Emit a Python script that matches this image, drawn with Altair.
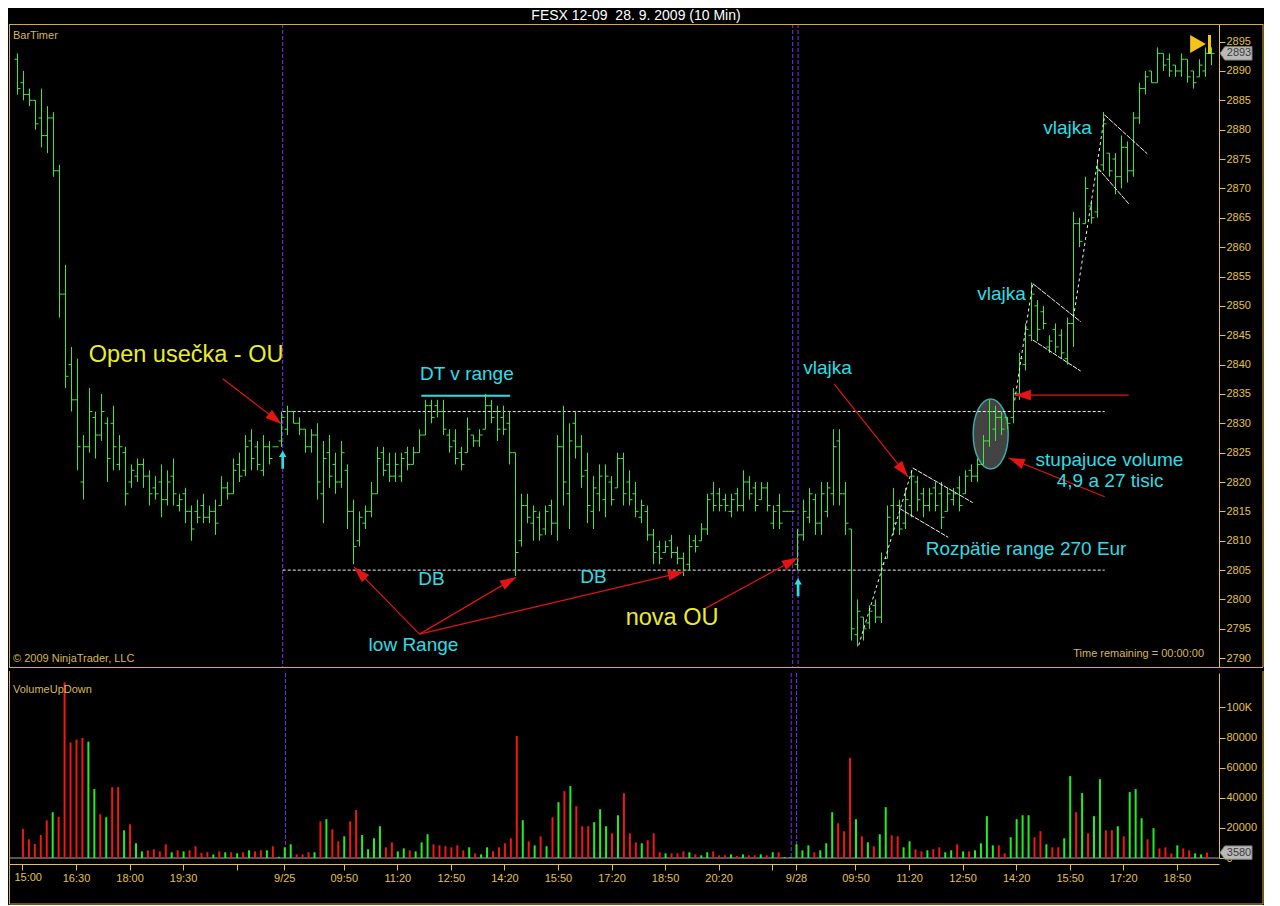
import altair as alt
import pandas as pd

# ---------------- data: 10-minute OHLC bars + volume ----------------
HIGH = [2893, 2890, 2887, 2885, 2887, 2884, 2883, 2874, 2857, 2843,
        2841, 2828, 2836, 2832, 2835, 2831, 2833, 2828, 2826, 2823,
        2824, 2824, 2822, 2821, 2823, 2822, 2824, 2818, 2819, 2816,
        2817, 2818, 2816, 2817, 2821, 2820, 2824, 2825, 2828, 2829,
        2827, 2828, 2827, 2826, 2832, 2833, 2832, 2831, 2829, 2829,
        2830, 2827, 2828, 2825, 2827, 2823, 2817, 2815, 2816, 2820,
        2826, 2826, 2825, 2825, 2825, 2826, 2826, 2829, 2834, 2834,
        2834, 2834, 2829, 2829, 2826, 2831, 2828, 2829, 2835, 2834,
        2833, 2833, 2832, 2825, 2818, 2818, 2816, 2815, 2816, 2817,
        2828, 2833, 2830, 2832, 2828, 2825, 2821, 2823, 2823, 2821,
        2825, 2825, 2822, 2820, 2817, 2816, 2812, 2810, 2810, 2811,
        2809, 2808, 2811, 2811, 2813, 2818, 2820, 2819, 2818, 2818,
        2819, 2822, 2821, 2820, 2820, 2820, 2816, 2818, 2815, 2815,
        2812, 2817, 2819, 2818, 2820, 2820, 2829, 2829, 2820, 2812,
        2800, 2797, 2799, 2800, 2808, 2816, 2819, 2817, 2819, 2822,
        2821, 2819, 2819, 2820, 2820, 2819, 2819, 2821, 2822, 2823,
        2824, 2828, 2834, 2833, 2832, 2831, 2836, 2842, 2847, 2854,
        2851, 2850, 2845, 2847, 2846, 2848, 2866, 2865, 2872, 2868,
        2875, 2883, 2876, 2876, 2879, 2878, 2883, 2888, 2890, 2890,
        2894, 2893, 2893, 2891, 2893, 2892, 2890, 2892, 2894, 2894]
LOW = [2886, 2885, 2884, 2880, 2877, 2876, 2872, 2848, 2836, 2832,
       2822, 2817, 2825, 2824, 2827, 2820, 2822, 2822, 2816, 2819,
       2820, 2819, 2816, 2817, 2814, 2816, 2816, 2815, 2813, 2810,
       2813, 2813, 2813, 2811, 2816, 2817, 2818, 2820, 2821, 2822,
       2822, 2821, 2823, 2826, 2826, 2828, 2830, 2828, 2825, 2825,
       2817, 2813, 2819, 2818, 2819, 2812, 2806, 2809, 2812, 2814,
       2818, 2821, 2820, 2820, 2820, 2822, 2823, 2825, 2828, 2830,
       2831, 2828, 2825, 2823, 2822, 2825, 2826, 2826, 2829, 2830,
       2827, 2828, 2823, 2804, 2809, 2813, 2810, 2810, 2811, 2811,
       2810, 2816, 2812, 2824, 2819, 2813, 2812, 2815, 2814, 2816,
       2819, 2816, 2816, 2814, 2813, 2810, 2806, 2806, 2808, 2807,
       2806, 2804, 2805, 2808, 2810, 2811, 2815, 2815, 2815, 2814,
       2815, 2815, 2817, 2815, 2817, 2815, 2812, 2812, 2815, 2815,
       2805, 2810, 2813, 2811, 2811, 2814, 2816, 2816, 2811, 2793,
       2792, 2793, 2795, 2796, 2796, 2807, 2811, 2811, 2812, 2814,
       2815, 2814, 2815, 2815, 2812, 2815, 2816, 2815, 2818, 2820,
       2820, 2823, 2826, 2827, 2828, 2829, 2830, 2834, 2839, 2844,
       2844, 2846, 2842, 2842, 2841, 2840, 2843, 2860, 2864, 2864,
       2865, 2873, 2872, 2869, 2870, 2871, 2872, 2881, 2886, 2888,
       2888, 2890, 2889, 2889, 2889, 2888, 2887, 2889, 2889, 2891]
OPEN = [2892, 2888, 2886, 2885, 2882, 2879, 2882, 2873, 2852, 2840,
        2834, 2820, 2826, 2831, 2828, 2830, 2830, 2823, 2825, 2820,
        2821, 2823, 2821, 2819, 2820, 2817, 2821, 2816, 2818, 2815,
        2815, 2816, 2814, 2815, 2816, 2819, 2818, 2823, 2822, 2827,
        2826, 2822, 2826, 2826, 2827, 2829, 2832, 2830, 2829, 2826,
        2828, 2818, 2825, 2823, 2820, 2822, 2815, 2810, 2813, 2815,
        2818, 2825, 2823, 2821, 2821, 2825, 2823, 2825, 2828, 2833,
        2833, 2832, 2828, 2827, 2825, 2825, 2828, 2827, 2829, 2833,
        2832, 2831, 2830, 2825, 2810, 2816, 2813, 2814, 2812, 2816,
        2813, 2826, 2818, 2830, 2826, 2822, 2815, 2818, 2817, 2820,
        2819, 2824, 2820, 2818, 2814, 2815, 2811, 2809, 2808, 2810,
        2808, 2807, 2806, 2810, 2810, 2812, 2818, 2818, 2817, 2815,
        2818, 2816, 2820, 2819, 2817, 2819, 2813, 2816, 2815, 2815,
        2806, 2811, 2814, 2817, 2813, 2815, 2818, 2827, 2818, 2812,
        2794, 2797, 2796, 2799, 2797, 2807, 2816, 2816, 2813, 2816,
        2820, 2818, 2816, 2819, 2818, 2815, 2817, 2819, 2818, 2822,
        2821, 2823, 2827, 2829, 2831, 2831, 2831, 2835, 2840, 2845,
        2850, 2849, 2843, 2846, 2845, 2841, 2847, 2864, 2864, 2867,
        2866, 2874, 2876, 2875, 2872, 2877, 2873, 2882, 2887, 2890,
        2888, 2893, 2892, 2891, 2890, 2892, 2890, 2889, 2890, 2894]
CLOSE = [2887, 2886, 2885, 2881, 2879, 2882, 2873, 2852, 2838, 2834,
         2826, 2826, 2832, 2828, 2832, 2824, 2826, 2826, 2818, 2822,
         2823, 2821, 2818, 2818, 2817, 2820, 2818, 2817, 2815, 2812,
         2814, 2814, 2815, 2813, 2819, 2818, 2822, 2821, 2826, 2824,
         2823, 2826, 2824, 2826, 2831, 2832, 2830, 2829, 2826, 2828,
         2820, 2824, 2821, 2820, 2825, 2815, 2809, 2814, 2815, 2818,
         2824, 2822, 2821, 2823, 2824, 2823, 2825, 2828, 2833, 2831,
         2832, 2829, 2826, 2824, 2823, 2829, 2827, 2828, 2833, 2831,
         2829, 2829, 2825, 2808, 2816, 2814, 2815, 2811, 2815, 2813,
         2826, 2820, 2827, 2826, 2821, 2816, 2819, 2821, 2821, 2817,
         2824, 2818, 2817, 2815, 2816, 2811, 2808, 2807, 2809, 2808,
         2807, 2805, 2809, 2809, 2812, 2817, 2816, 2816, 2816, 2817,
         2816, 2820, 2818, 2816, 2819, 2816, 2815, 2813, 2815, 2815,
         2811, 2815, 2818, 2813, 2818, 2819, 2826, 2818, 2813, 2795,
         2798, 2795, 2798, 2797, 2806, 2814, 2813, 2812, 2817, 2821,
         2817, 2816, 2818, 2816, 2814, 2818, 2818, 2816, 2821, 2821,
         2823, 2827, 2832, 2831, 2829, 2830, 2835, 2841, 2846, 2852,
         2846, 2847, 2844, 2843, 2842, 2847, 2864, 2861, 2870, 2865,
         2873, 2881, 2873, 2872, 2877, 2873, 2882, 2887, 2889, 2888,
         2893, 2891, 2890, 2890, 2892, 2889, 2888, 2891, 2893, 2893]
VOLUME = [19300, 12400, 9300, 15300, 25000, 30400, 27300, 116700, 76700, 78700,
          79800, 77300, 45800, 29100, 27100, 47100, 47100, 18400, 22400, 9800,
          4400, 5100, 5800, 4400, 9100, 3800, 5100, 4400, 5100, 7800,
          3300, 3800, 2400, 4400, 3800, 3800, 3100, 3800, 5100, 4400,
          5100, 5100, 7800, 800, 7100, 9100, 2400, 2400, 3800, 3800,
          24400, 25800, 19100, 11100, 14400, 24400, 31800, 15300, 5800, 13100,
          21100, 7100, 10400, 4400, 6400, 5100, 4400, 10400, 15800, 9100,
          8400, 7800, 7100, 8400, 5100, 7100, 3100, 2400, 7100, 4400,
          7100, 9800, 13100, 81100, 25100, 11100, 8400, 14400, 7800, 27100,
          37100, 44400, 47800, 34400, 21100, 21100, 23800, 32400, 21100, 16400,
          28400, 43100, 16400, 10400, 9800, 11800, 16400, 3800, 3100, 3100,
          3100, 4400, 3800, 2400, 1800, 3800, 4400, 1800, 1800, 2400,
          1300, 2400, 1800, 1800, 2400, 1800, 3800, 3800, 600, 600,
          9100, 5100, 8400, 3800, 5100, 9800, 30400, 23100, 17800, 66400,
          25800, 14400, 10400, 7800, 15800, 33800, 15100, 14400, 7100, 11100,
          5800, 4400, 5100, 5800, 7100, 3800, 5100, 9100, 4400, 4400,
          5100, 9800, 27800, 8400, 8400, 3100, 13800, 25800, 28400, 28400,
          13800, 17800, 9100, 7100, 7100, 13100, 54400, 30400, 43100, 16400,
          27800, 52400, 18400, 18400, 21100, 14400, 43800, 45800, 26400, 12400,
          19800, 6400, 7100, 3100, 8400, 6400, 5100, 3100, 2400, 3580]

# time axis: bar index of each tick and its label
TICK_IDX = [0, 9, 18, 27, 36, 44, 54, 63, 72, 81, 90, 99, 108, 117, 126,
            130, 140, 149, 158, 167, 176, 185, 194]
TICK_LAB = ["15:00", "16:30", "18:00", "19:30", "", "9/25", "09:50", "11:20",
            "12:50", "14:20", "15:50", "17:20", "18:50", "20:20", "", "9/28",
            "09:50", "11:20", "12:50", "14:20", "15:50", "17:20", "18:50"]
PRICE_TICKS = list(range(2790, 2900, 5))
VOL_TICKS = [0, 20000, 40000, 60000, 80000, 100000]

# session separators (bar index)
SESSION_X = [44.2, 129.2, 130.1]

# opening range lines
RANGE_P = [2832, 2805]
RANGE_X0 = [44.2, 44.2]
RANGE_X1 = [181.2, 181.2]

# "DT v range" underline
DT_X0, DT_X1, DT_P = [67.3], [82.1], [2834.7]

# flag poles (dashed) and flag borders
POLE_X0 = [140.2, 166.2, 176.0]
POLE_P0 = [2792.2, 2833.9, 2848.1]
POLE_X1 = [149.2, 169.2, 181.2]
POLE_P1 = [2822.4, 2853.8, 2882.5]
FLAG_X0 = [149.2, 147.0, 169.2, 169.2, 181.2, 180.1]
FLAG_P0 = [2822.4, 2815.5, 2853.8, 2844.2, 2882.5, 2873.4]
FLAG_X1 = [159.2, 155.1, 177.2, 177.2, 188.3, 185.2]
FLAG_P1 = [2816.5, 2810.6, 2847.3, 2838.9, 2875.9, 2867.4]

# red arrows: start, tip, heading (deg)
ARR_X0 = [34.2, 67.0, 67.0, 67.0, 114.5, 136.1, 181.2, 185.2]
ARR_P0 = [2837.6, 2794.1, 2794.1, 2794.1, 2798.4, 2836.7, 2817.5, 2834.8]
ARR_X1 = [44.0, 56.1, 83.1, 111.1, 130.1, 148.4, 165.2, 166.2]
ARR_P1 = [2829.9, 2805.5, 2803.8, 2804.7, 2807.1, 2820.9, 2824.1, 2834.8]
ARR_ANG = [128, 315, 60, 77, 62, 142, 292, 270]

# cyan up arrows
UP_X = [44.2, 130.1]
UP_P = [2823.8, 2802.1]

# volume ellipse
ELL_X, ELL_P = [162.2], [2828.2]

# annotation texts
ANN_TEXT = ["Open usečka - OU", "DT v range", "DB", "DB", "low Range", "nova OU",
            "vlajka", "vlajka", "vlajka", "Rozpätie range 270 Eur",
            "stupajuce volume", "4,9 a 27 tisic"]
ANN_X = [28.1, 74.9, 69.0, 96.0, 66.0, 109.1, 135.0, 164.0, 175.0, 168.1, 182.0, 182.1]
ANN_P = [2841.6, 2838.4, 2803.5, 2803.8, 2792.2, 2796.8, 2839.4, 2852.0, 2880.3,
         2808.6, 2823.8, 2820.2]
ANN_KIND = ["y", "c", "c", "c", "c", "y", "c", "c", "c", "c", "c", "c"]

TITLE = "FESX 12-09\u00a0 28. 9. 2009 (10 Min)"

# ---------------- styling ----------------
FONT = "Liberation Sans"
AX = "#e3c245"
FRAME = "#d8ad2e"
SMALL = "#d6b851"
GREEN = "#3fe83f"
VGREEN = "#1ff01f"
VRED = "#f01717"
CYAN = "#2fdde6"
YELLOW = "#ecec2a"
PURPLE = "#7a30f0"
WHITE = "#f2f2f2"
RED = "#e21414"
ZERO = "#a8a8b8"

W, HP, HV = 1210, 643, 185
RIGHT = 1254
XS = alt.Scale(domain=[-1.4167, 200.25], nice=False, zero=False)
YP = alt.Scale(domain=[2788.5, 2898.0], nice=False, zero=False)
YV = alt.Scale(domain=[0, 122900], nice=False, zero=True)

price_axis = alt.Axis(orient="right", values=PRICE_TICKS, format="d", grid=False,
                      domainColor=AX, tickColor=AX, labelColor=AX, labelFont=FONT,
                      labelFontSize=11, tickSize=6, labelPadding=1, labelOverlap=False)
vol_axis = alt.Axis(orient="right", values=VOL_TICKS, grid=False,
                    labelExpr="datum.value >= 100000 ? '100K' : format(datum.value, 'd')",
                    domainColor=AX, tickColor=AX, labelColor=AX, labelFont=FONT,
                    labelFontSize=11, tickSize=6, labelPadding=1, labelOverlap=False)
lab_expr = ("datum.value == 0 ? '' : [" + ",".join("'%s'" % s for s in TICK_LAB)
            + "][indexof([" + ",".join(str(v) for v in TICK_IDX) + "], datum.value)]")
time_axis = alt.Axis(orient="bottom", values=TICK_IDX, labelExpr=lab_expr, grid=False,
                     offset=6, domainColor=AX, tickColor=AX, labelColor=AX, labelFont=FONT,
                     labelFontSize=11, tickSize=6, labelPadding=2, labelOverlap=False,
                     labelFlush=False)


def px(f):
    return alt.X(f"{f}:Q", scale=XS, axis=None, title=None)


def px2(f):
    return alt.X2(f"{f}:Q")


def py(f):
    return alt.Y(f"{f}:Q", scale=YP, axis=price_axis, title=None)


def py2(f):
    return alt.Y2(f"{f}:Q")


def vx(f):
    return alt.X(f"{f}:Q", scale=XS, axis=time_axis, title=None)


def vy(f):
    return alt.Y(f"{f}:Q", scale=YV, axis=vol_axis, title=None)


ONE = pd.DataFrame({"k": [0]})


def deco_rule(x, y, x2=None, y2=None, color=FRAME, width=1.0):
    enc = dict(x=alt.value(x), y=alt.value(y))
    if x2 is not None:
        enc["x2"] = alt.value(x2)
    if y2 is not None:
        enc["y2"] = alt.value(y2)
    return alt.Chart(ONE).mark_rule(color=color, strokeWidth=width, clip=False).encode(**enc)


def deco_text(txt, x, y, align="left", color=SMALL, size=11):
    return alt.Chart(ONE).mark_text(text=txt, align=align, baseline="middle", color=color,
                                    font=FONT, fontSize=size).encode(x=alt.value(x), y=alt.value(y))


bars = pd.DataFrame({"i": list(range(len(HIGH))), "high": HIGH, "low": LOW,
                     "open": OPEN, "close": CLOSE, "vol": VOLUME})
sess = pd.DataFrame({"x": SESSION_X})
rng = pd.DataFrame({"x0": RANGE_X0, "x1": RANGE_X1, "p": RANGE_P})
dt = pd.DataFrame({"x0": DT_X0, "x1": DT_X1, "p": DT_P})
poles = pd.DataFrame({"x0": POLE_X0, "p0": POLE_P0, "x1": POLE_X1, "p1": POLE_P1})
flags = pd.DataFrame({"x0": FLAG_X0, "p0": FLAG_P0, "x1": FLAG_X1, "p1": FLAG_P1})
arrows = pd.DataFrame({"x0": ARR_X0, "p0": ARR_P0, "x1": ARR_X1, "p1": ARR_P1, "ang": ARR_ANG})
ups = pd.DataFrame({"x": UP_X, "p": UP_P})
ell = pd.DataFrame({"x": ELL_X, "p": ELL_P})
ann = pd.DataFrame({"t": ANN_TEXT, "x": ANN_X, "p": ANN_P, "k": ANN_KIND})
last_px = pd.DataFrame({"p": [CLOSE[-1]]})
last_vol = pd.DataFrame({"v": [VOLUME[-1]]})
zero_vol = pd.DataFrame({"v": [0]})
first_tick = pd.DataFrame({"i": [TICK_IDX[0]], "t": [TICK_LAB[0]]})

ELLIPSE = "M0,-1A0.5,1,0,1,1,0,1A0.5,1,0,1,1,0,-1Z"
HEAD = "M0,0L0.62,1.9L-0.62,1.9Z"
UPARROW = "M0,-1L0.42,-0.3L0.15,-0.3L0.15,1L-0.15,1L-0.15,-0.3L-0.42,-0.3Z"
TAG = "M-1,0L-0.7,-0.42L1,-0.42L1,0.42L-0.7,0.42Z"

# ---------------- price panel ----------------
p_layers = [
    alt.Chart(sess).mark_rule(color=PURPLE, strokeDash=[4, 2], strokeWidth=1).encode(x=px("x")),
    alt.Chart(ell).mark_point(shape=ELLIPSE, size=4900, filled=True, fill="#4a4a4a",
                              fillOpacity=0.9, stroke="#3aa9aa", strokeWidth=1.5,
                              opacity=1).encode(x=px("x"), y=py("p")),
    alt.Chart(rng).mark_rule(color=WHITE, strokeDash=[3, 2], strokeWidth=1).encode(
        x=px("x0"), x2=px2("x1"), y=py("p")),
    alt.Chart(dt).mark_rule(color=CYAN, strokeWidth=2).encode(x=px("x0"), x2=px2("x1"), y=py("p")),
    alt.Chart(bars).mark_rule(color=GREEN, strokeWidth=1).encode(x=px("i"), y=py("low"), y2=py2("high")),
    alt.Chart(bars).mark_rule(color=GREEN, strokeWidth=1, xOffset=-3, x2Offset=0).encode(
        x=px("i"), x2=px2("i"), y=py("open")),
    alt.Chart(bars).mark_rule(color=GREEN, strokeWidth=1, xOffset=0, x2Offset=3).encode(
        x=px("i"), x2=px2("i"), y=py("close")),
    alt.Chart(poles).mark_rule(color=WHITE, strokeDash=[3, 3], strokeWidth=1).encode(
        x=px("x0"), y=py("p0"), x2=px2("x1"), y2=py2("p1")),
    alt.Chart(flags).mark_rule(color=WHITE, strokeDash=[5, 1], strokeWidth=1).encode(
        x=px("x0"), y=py("p0"), x2=px2("x1"), y2=py2("p1")),
    alt.Chart(arrows).mark_rule(color=RED, strokeWidth=1.2).encode(
        x=px("x0"), y=py("p0"), x2=px2("x1"), y2=py2("p1")),
    alt.Chart(arrows).mark_point(shape=HEAD, size=290, filled=True, color=RED, opacity=1).encode(
        x=px("x1"), y=py("p1"), angle=alt.Angle("ang:Q", scale=None)),
    alt.Chart(ups).mark_point(shape=UPARROW, size=324, filled=True, color=CYAN, opacity=1).encode(
        x=px("x"), y=py("p")),
    alt.Chart(ann).mark_text(font=FONT, baseline="middle", align="center").encode(
        x=px("x"), y=py("p"), text="t:N",
        color=alt.Color("k:N", scale=alt.Scale(domain=["y", "c"], range=[YELLOW, CYAN]), legend=None),
        size=alt.Size("k:N", scale=alt.Scale(domain=["y", "c"], range=[23.5, 19]), legend=None)),
    # current price tag
    alt.Chart(last_px).mark_point(shape=TAG, size=1024, filled=True, fill="#b9b9b9",
                                  stroke="#7c7c7c", strokeWidth=1, opacity=1).encode(
        x=alt.value(1227), y=py("p")),
    alt.Chart(last_px).mark_text(font=FONT, fontSize=11, color="#3a3a3a", align="center",
                                 baseline="middle").encode(x=alt.value(1230), y=py("p"),
                                                           text=alt.Text("p:Q", format="d")),
    # play icon
    alt.Chart(ONE).mark_point(shape="triangle-right", size=330, filled=True, color="#f2c418",
                              opacity=1).encode(x=alt.value(1189), y=alt.value(20)),
    deco_rule(1200.5, 11, y2=30, color="#f2c418", width=3),
    deco_text("BarTimer", 4, 12),
    deco_text("© 2009 NinjaTrader, LLC", 4, 635),
    deco_text("Time remaining = 00:00:00", 1195, 630, align="right"),
    deco_rule(0, 0.5, x2=RIGHT),
    deco_rule(0, 643.5, x2=RIGHT),
    deco_rule(0.5, 0, y2=643),
    deco_rule(RIGHT, 0, y2=643),
]
price = alt.layer(*p_layers).properties(width=W, height=HP)

# ---------------- volume panel ----------------
v_layers = [
    alt.Chart(sess).mark_rule(color=PURPLE, strokeDash=[4, 2], strokeWidth=1).encode(x=vx("x")),
    alt.Chart(zero_vol).mark_rule(color=ZERO, strokeWidth=1).encode(y=vy("v")),
    alt.Chart(bars).mark_bar(size=2, xOffset=0.5).encode(
        x=vx("i"), y=vy("vol"),
        color=alt.condition("datum.close >= datum.open", alt.value(VGREEN), alt.value(VRED))),
    alt.Chart(first_tick).mark_text(font=FONT, fontSize=11, color=AX, align="left",
                                    baseline="top", dx=-8).encode(
        x=vx("i"), y=alt.value(HV + 6 + 6 + 2), text="t:N"),
    alt.Chart(last_vol).mark_point(shape=TAG, size=1024, filled=True, fill="#b9b9b9",
                                   stroke="#7c7c7c", strokeWidth=1, opacity=1).encode(
        x=alt.value(1227), y=vy("v")),
    alt.Chart(last_vol).mark_text(font=FONT, fontSize=11, color="#3a3a3a", align="center",
                                  baseline="middle").encode(x=alt.value(1230), y=vy("v"),
                                                            text=alt.Text("v:Q", format="d")),
    deco_text("VolumeUpDown", 4, 17),
    deco_rule(0.5, -2, y2=231),
    deco_rule(RIGHT, -2, y2=231),
    deco_rule(0, 231, x2=RIGHT),
]
volume = alt.layer(*v_layers).properties(width=W, height=HV)

chart = alt.vconcat(price, volume, spacing=2).properties(
    title=alt.TitleParams(TITLE, color="white", font=FONT, fontSize=14, fontWeight="normal",
                          anchor="middle", offset=1),
    background="black",
    padding={"left": 0, "top": 0, "right": 0, "bottom": 0},
).configure_view(stroke=None)

chart.save("out.html", embed_options={"renderer": "svg", "actions": False})
